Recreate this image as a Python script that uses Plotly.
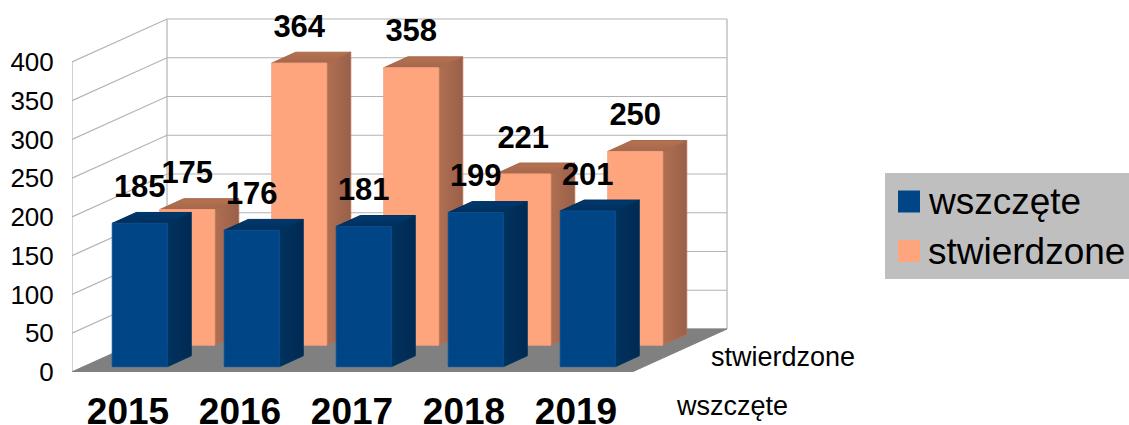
import plotly.graph_objects as go

categories = ["2015", "2016", "2017", "2018", "2019"]
wszczete = [185, 176, 181, 199, 201]
stwierdzone = [175, 364, 358, 221, 250]
y_ticks = [0, 50, 100, 150, 200, 250, 300, 350, 400]
series_names = ["wszczęte", "stwierdzone"]

W, H = 1129, 425
LEFT, BASE = 72, 372          # pixel position of the chart origin
CAT_PX = 112                  # pixels per category
VAL_PX = 0.775                # pixels per value unit
DEPTH_DX = 95 / CAT_PX        # full depth, in categories
DEPTH_DY = 43 / VAL_PX        # full depth, in value units
BAR_W = 55 / CAT_PX
BAR_D = 24 / 95               # bar depth as share of full depth
LABEL_LIFT = 34 / VAL_PX

GRID = "#b3b3b3"
FLOOR = "#808080"
STYLE = [
    dict(front="#004586", side=["#00335f", "#002a52"], top=["#002f5c", "#00396f"], edge="#0a4f8e"),
    dict(front="#ffa57e", side=["#b06f52", "#99604a"], top=["#a5674c", "#b5724f"], edge="#f5a27e"),
]
FONT = "Liberation Sans"


def proj(c, v, d):
    """Oblique projection: category position, value, depth share -> axis coordinates."""
    return c + d * DEPTH_DX, v + d * DEPTH_DY


def poly(points):
    xy = [proj(*p) for p in points]
    xy.append(xy[0])
    return [p[0] for p in xy], [p[1] for p in xy]


def add_line(fig, pts):
    xy = [proj(*p) for p in pts]
    fig.add_trace(go.Scatter(x=[p[0] for p in xy], y=[p[1] for p in xy], mode="lines",
                             cliponaxis=False,
                             line=dict(color=GRID, width=1.2), hoverinfo="skip", showlegend=False))


def add_face(fig, pts, color=None, gradient=None, kind="horizontal", edge=None, name=None):
    x, y = poly(pts)
    t = dict(x=x, y=y, mode="lines", fill="toself", hoverinfo="skip", showlegend=False,
             line=dict(color=edge or (color if color else gradient[0]), width=1))
    if gradient:
        t["fillgradient"] = dict(type=kind, colorscale=[[0, gradient[0]], [1, gradient[1]]])
    else:
        t["fillcolor"] = color
    if name:
        t["name"] = name
    fig.add_trace(go.Scatter(**t))


fig = go.Figure()
n = len(categories)

# walls and gridlines
for v in y_ticks:
    add_line(fig, [(0, v, 0), (0, v, 1), (n, v, 1)])
add_line(fig, [(0, 0, 0), (0, y_ticks[-1], 0)])
add_line(fig, [(0, 0, 1), (0, y_ticks[-1], 1)])
add_line(fig, [(n, 0, 1), (n, y_ticks[-1], 1)])
# floor
add_face(fig, [(0, 0, 0), (n, 0, 0), (n, 0, 1), (0, 0, 1)], color=FLOOR)

# bars: rear series first
label_x, label_y, label_t = [], [], []
for s, values in [(1, stwierdzone), (0, wszczete)]:
    st = STYLE[s]
    d0 = 0.25 + 0.5 * s - BAR_D / 2
    d1 = d0 + BAR_D
    for i, v in enumerate(values):
        c0 = i + 0.5 - BAR_W / 2
        c1 = c0 + BAR_W
        add_face(fig, [(c1, 0, d0), (c1, 0, d1), (c1, v, d1), (c1, v, d0)],
                 gradient=st["side"], kind="horizontal")
        add_face(fig, [(c0, v, d0), (c1, v, d0), (c1, v, d1), (c0, v, d1)],
                 gradient=st["top"], kind="vertical")
        add_face(fig, [(c0, 0, d0), (c1, 0, d0), (c1, v, d0), (c0, v, d0)],
                 color=st["front"], edge=st["edge"], name=series_names[s])
        lx, ly = proj(i + 0.5, v + LABEL_LIFT, d0)
        label_x.append(lx)
        label_y.append(ly)
        label_t.append(str(v))

fig.add_trace(go.Scatter(x=label_x, y=label_y, text=label_t, mode="text",
                         textposition="middle center", hoverinfo="skip", showlegend=False,
                         cliponaxis=False,
                         textfont=dict(family=FONT, size=31, color="#000000", weight="bold")))


def X(px):
    return (px - LEFT) / (W - LEFT)


def Y(py):
    return (BASE - py) / BASE


annotations = [
    dict(x=X(783), y=Y(357), text=series_names[1], font=dict(size=27)),
    dict(x=X(732), y=Y(406), text=series_names[0], font=dict(size=27)),
    dict(x=X(926), y=Y(201), text=series_names[0], font=dict(size=37), xanchor="left"),
    dict(x=X(926), y=Y(251), text=series_names[1], font=dict(size=37), xanchor="left"),
]
for a in annotations:
    a.update(xref="paper", yref="paper", showarrow=False, yanchor="middle")
    a.setdefault("xanchor", "center")
    a["font"].update(family=FONT, color="#000000")

shapes = [
    dict(x0=X(885), x1=X(1129), y0=Y(173), y1=Y(279), fillcolor="#bfbfbf"),
    dict(x0=X(898), x1=X(920), y0=Y(190.5), y1=Y(212.5), fillcolor=STYLE[0]["front"]),
    dict(x0=X(898), x1=X(920), y0=Y(240), y1=Y(262), fillcolor=STYLE[1]["front"]),
]
for s in shapes:
    s.update(type="rect", xref="paper", yref="paper", line=dict(width=0), layer="below")

fig.update_layout(
    width=W, height=H, autosize=False,
    margin=dict(l=LEFT, r=0, t=0, b=H - BASE, pad=0, autoexpand=False),
    paper_bgcolor="white", plot_bgcolor="rgba(0,0,0,0)", showlegend=False,
    annotations=annotations, shapes=shapes,
    xaxis=dict(range=[0, (W - LEFT) / CAT_PX], tickmode="array", automargin=False,
               tickvals=[i + 0.5 for i in range(n)], ticktext=categories,
               showgrid=False, zeroline=False, showline=False,
               ticks="outside", ticklen=7, tickcolor="rgba(0,0,0,0)",
               tickfont=dict(family=FONT, size=37, color="#000000", weight="bold")),
    yaxis=dict(range=[0, BASE / VAL_PX], tickmode="array", tickvals=y_ticks, automargin=False,
               showgrid=False, zeroline=False, showline=False,
               ticks="outside", ticklen=12, tickcolor="rgba(0,0,0,0)",
               tickfont=dict(family=FONT, size=26, color="#000000")),
)

fig.write_html("out.html", config={"displayModeBar": False},
               post_script="document.body.style.margin='0';")
